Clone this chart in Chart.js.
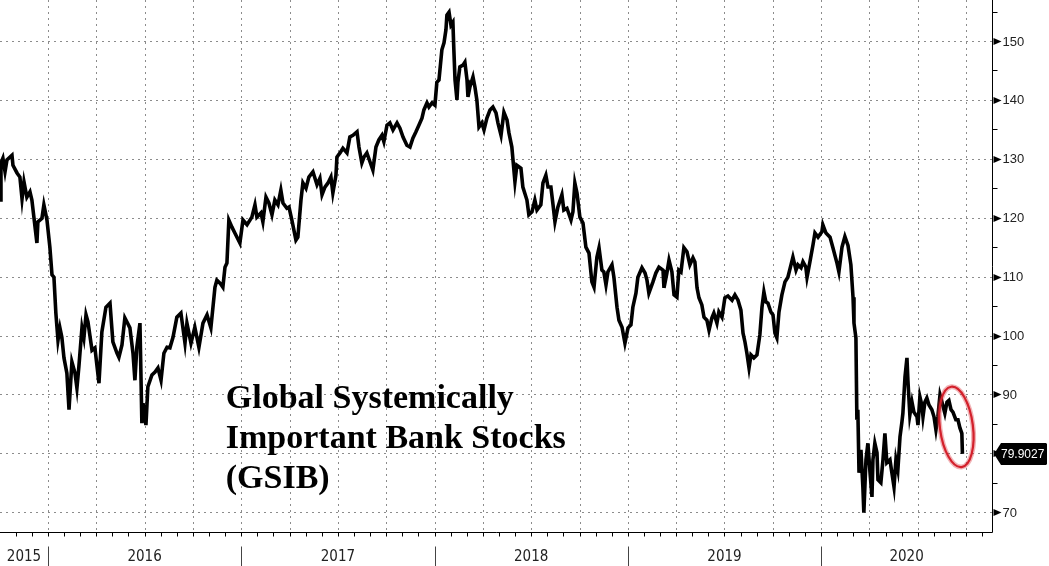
<!DOCTYPE html>
<html>
<head>
<meta charset="utf-8">
<script src="https://cdn.jsdelivr.net/npm/chart.js@4.4.1/dist/chart.umd.min.js"></script>
<style>
  html, body { margin: 0; padding: 0; background: #ffffff; }
  #wrap { width: 1049px; height: 566px; position: relative; }
</style>
</head>
<body>
<div id="wrap"><canvas id="c" width="1049" height="566"></canvas></div>
<script>
// ---- DATA (x = decimal year, y = index level) ----
const dates = [
  2015.752,2015.757,2015.767,2015.778,2015.788,2015.814,2015.819,2015.840,2015.855,2015.866,
  2015.876,2015.891,2015.907,2015.917,2015.928,2015.943,2015.948,2015.969,2015.979,2015.995,
  2016.010,2016.021,2016.031,2016.041,2016.052,2016.062,2016.072,2016.083,2016.098,2016.109,
  2016.124,2016.140,2016.150,2016.160,2016.176,2016.186,2016.197,2016.207,2016.228,2016.243,
  2016.264,2016.279,2016.300,2016.321,2016.336,2016.357,2016.367,2016.383,2016.398,2016.409,
  2016.424,2016.440,2016.450,2016.460,2016.476,2016.486,2016.492,2016.507,2016.517,2016.538,
  2016.554,2016.569,2016.585,2016.600,2016.616,2016.631,2016.647,2016.667,2016.688,2016.709,
  2016.719,2016.740,2016.760,2016.781,2016.802,2016.823,2016.843,2016.864,2016.874,2016.890,
  2016.905,2016.916,2016.926,2016.936,2016.952,2016.967,2016.993,2017.009,2017.030,2017.055,
  2017.071,2017.081,2017.102,2017.112,2017.128,2017.143,2017.159,2017.174,2017.190,2017.205,
  2017.216,2017.236,2017.247,2017.262,2017.283,2017.293,2017.309,2017.319,2017.335,2017.350,
  2017.371,2017.392,2017.407,2017.418,2017.433,2017.449,2017.464,2017.474,2017.490,2017.495,
  2017.511,2017.526,2017.547,2017.562,2017.578,2017.599,2017.609,2017.624,2017.635,2017.650,
  2017.666,2017.681,2017.697,2017.712,2017.728,2017.738,2017.754,2017.769,2017.785,2017.806,
  2017.821,2017.837,2017.857,2017.873,2017.888,2017.904,2017.919,2017.935,2017.945,2017.961,
  2017.971,2017.987,2018.002,2018.012,2018.023,2018.038,2018.049,2018.059,2018.064,2018.075,
  2018.085,2018.095,2018.100,2018.106,2018.116,2018.121,2018.131,2018.147,2018.157,2018.168,
  2018.173,2018.183,2018.199,2018.209,2018.219,2018.230,2018.245,2018.256,2018.271,2018.287,
  2018.302,2018.318,2018.328,2018.344,2018.359,2018.375,2018.385,2018.400,2018.406,2018.416,
  2018.426,2018.447,2018.457,2018.478,2018.488,2018.504,2018.519,2018.530,2018.550,2018.561,
  2018.576,2018.587,2018.602,2018.613,2018.623,2018.638,2018.659,2018.669,2018.685,2018.706,
  2018.716,2018.726,2018.737,2018.752,2018.768,2018.783,2018.799,2018.814,2018.825,2018.840,
  2018.851,2018.866,2018.876,2018.887,2018.897,2018.918,2018.928,2018.944,2018.954,2018.970,
  2018.985,2019.001,2019.016,2019.026,2019.042,2019.052,2019.073,2019.089,2019.099,2019.109,
  2019.130,2019.145,2019.161,2019.182,2019.187,2019.202,2019.213,2019.228,2019.239,2019.254,
  2019.264,2019.275,2019.290,2019.306,2019.321,2019.337,2019.347,2019.358,2019.368,2019.383,
  2019.394,2019.409,2019.420,2019.435,2019.445,2019.461,2019.471,2019.487,2019.502,2019.518,
  2019.539,2019.554,2019.570,2019.585,2019.596,2019.606,2019.616,2019.627,2019.637,2019.652,
  2019.668,2019.683,2019.694,2019.704,2019.714,2019.725,2019.740,2019.751,2019.761,2019.771,
  2019.782,2019.797,2019.813,2019.828,2019.844,2019.854,2019.870,2019.880,2019.896,2019.906,
  2019.921,2019.927,2019.942,2019.958,2019.968,2019.984,2020.004,2020.009,2020.025,2020.046,
  2020.061,2020.082,2020.092,2020.108,2020.123,2020.139,2020.154,2020.165,2020.170,2020.180,
  2020.185,2020.190,2020.196,2020.206,2020.216,2020.221,2020.232,2020.242,2020.253,2020.263,
  2020.268,2020.278,2020.289,2020.294,2020.309,2020.320,2020.330,2020.340,2020.356,2020.366,
  2020.377,2020.387,2020.397,2020.408,2020.418,2020.423,2020.434,2020.444,2020.449,2020.459,
  2020.470,2020.480,2020.496,2020.501,2020.511,2020.521,2020.527,2020.537,2020.547,2020.558,
  2020.573,2020.584,2020.594,2020.604,2020.615,2020.625,2020.640,2020.651,2020.661,2020.672,
  2020.682,2020.697,2020.708,2020.718,2020.728,2020.731
];
const gsib = [
  123.0,129.3,130.1,127.8,129.8,130.6,128.9,127.6,126.9,123.2,
  126.1,123.5,124.4,123.0,119.9,115.7,119.3,119.9,122.2,119.6,
  115.0,110.3,109.9,103.8,99.2,101.3,99.7,96.2,93.6,87.4,
  95.5,93.6,91.1,94.7,101.3,99.6,103.5,102.3,97.5,97.9,
  91.9,100.6,104.8,105.5,98.9,97.0,96.3,98.4,103.0,102.3,
  101.3,97.0,92.4,98.0,102.1,85.1,88.5,84.8,91.3,93.3,
  93.8,94.5,92.4,97.0,98.0,97.9,99.7,103.1,103.8,98.7,
  102.1,98.7,101.4,98.0,102.1,103.5,101.3,108.2,109.4,108.9,
  108.2,111.6,112.3,119.6,118.4,117.4,115.7,119.6,118.8,120.1,
  122.2,120.1,120.8,119.3,123.5,122.5,120.5,123.0,122.2,124.7,
  122.5,121.6,121.8,119.6,116.2,116.7,123.0,125.9,125.0,126.9,
  127.8,125.6,126.7,123.9,125.2,125.9,126.9,124.2,127.2,130.3,
  131.0,131.8,131.0,133.7,134.0,134.6,132.0,129.3,130.3,131.0,
  129.5,128.1,132.0,133.2,134.0,132.9,135.7,136.1,134.9,136.1,
  135.2,133.7,132.3,132.0,133.5,134.6,135.7,136.9,138.3,139.5,
  138.8,139.5,139.1,143.0,143.4,148.5,149.7,151.9,154.4,154.9,
  152.7,153.2,148.5,143.4,140.0,143.0,145.6,145.9,146.4,143.4,
  140.5,142.2,143.9,142.2,140.0,135.4,136.1,134.9,136.9,138.3,
  138.8,137.8,136.1,134.0,137.9,136.6,134.4,132.0,129.8,126.1,
  128.9,128.4,125.2,123.0,120.5,121.0,123.0,121.3,122.2,125.9,
  127.2,125.2,125.2,122.2,119.3,121.8,123.9,121.3,121.6,119.6,
  121.0,125.9,124.2,120.1,119.1,115.0,114.0,109.1,108.2,113.3,
  114.9,111.1,110.8,108.6,110.8,112.0,109.9,104.8,102.6,101.4,
  98.7,101.3,101.8,104.8,107.2,109.9,111.5,110.6,109.4,107.2,
  109.1,110.6,111.6,111.1,108.1,110.6,112.8,110.8,106.9,106.5,
  111.1,110.8,114.9,114.2,112.0,113.2,112.5,108.1,106.4,105.2,
  103.1,102.6,100.9,103.0,103.8,102.1,104.0,103.1,106.4,106.7,
  106.0,106.9,106.0,104.3,100.4,98.9,97.0,94.5,96.7,96.2,
  96.7,100.1,104.8,107.4,105.7,105.5,104.0,103.5,100.4,99.6,
  104.0,106.9,109.1,109.9,112.0,113.3,111.1,112.0,111.5,112.5,
  111.6,109.9,112.5,115.4,117.4,116.7,117.6,118.8,117.4,116.7,
  114.9,112.3,110.8,115.0,116.8,115.3,112.0,106.5,102.1,99.6,
  85.7,87.4,76.7,80.6,74.3,69.9,78.9,81.7,76.7,72.6,
  78.9,81.7,80.1,75.5,75.0,78.9,83.4,78.4,78.9,76.7,
  74.3,78.9,77.2,82.8,85.3,86.8,93.0,96.2,92.4,86.5,
  88.7,87.0,86.2,84.8,89.6,88.2,86.2,88.7,89.4,88.2,
  87.4,86.2,84.0,86.2,89.9,88.7,86.8,88.7,89.0,87.4,
  87.0,85.7,85.7,84.3,83.4,79.9027
];
const yTickValues = [70, 80, 90, 100, 110, 120, 130, 140, 150];
const yTickLabels = ['70', '80', '90', '100', '110', '120', '130', '140', '150'];
const xYearLabels = ['2015', '2016', '2017', '2018', '2019', '2020'];
const titleLines = ['Global Systemically', 'Important Bank Stocks', '(GSIB)'];

// axis ranges
const X_MIN = 2015.752, X_MAX = 2020.884;
const Y_MIN = 66.64, Y_MAX = 156.96;

// centers of the visible part of each year (for the year labels)
function yearCenters() {
  return xYearLabels.map(s => {
    const y = parseInt(s, 10);
    const a = Math.max(y, X_MIN), b = Math.min(y + 1, X_MAX);
    return (a + b) / 2;
  });
}

const decor = {
  id: 'decor',
  beforeDatasetsDraw(chart) {
    const {ctx, chartArea: ca, scales: {x, y}} = chart;
    ctx.save();
    ctx.strokeStyle = '#8c8c8c';
    ctx.lineWidth = 1;
    ctx.setLineDash([2, 4]);
    // horizontal grid
    yTickValues.forEach(v => {
      const py = Math.round(y.getPixelForValue(v)) + 0.5;
      ctx.beginPath(); ctx.moveTo(ca.left, py); ctx.lineTo(ca.right, py); ctx.stroke();
    });
    // vertical quarterly grid
    for (let q = Math.ceil(X_MIN * 4); q / 4 <= X_MAX; q++) {
      const px = Math.round(x.getPixelForValue(q / 4)) + 0.5;
      if (px <= ca.left || px >= ca.right) continue;
      ctx.beginPath(); ctx.moveTo(px, ca.top); ctx.lineTo(px, ca.bottom); ctx.stroke();
    }
    ctx.restore();
  },
  afterDatasetsDraw(chart) {
    const {ctx, chartArea: ca, scales: {x, y}} = chart;
    ctx.save();
    ctx.setLineDash([]);
    ctx.strokeStyle = '#000';
    ctx.lineWidth = 1;
    // axis lines
    const bx = Math.round(ca.right) + 0.5, by = Math.round(ca.bottom) + 0.5;
    ctx.beginPath(); ctx.moveTo(ca.left, by); ctx.lineTo(bx, by); ctx.stroke();
    ctx.beginPath(); ctx.moveTo(bx, ca.top); ctx.lineTo(bx, by); ctx.stroke();
    // monthly ticks on x axis
    for (let m = Math.ceil(X_MIN * 12); m / 12 <= X_MAX; m++) {
      const px = Math.round(x.getPixelForValue(m / 12)) + 0.5;
      ctx.beginPath(); ctx.moveTo(px, by); ctx.lineTo(px, by + 4); ctx.stroke();
    }
    // year separators
    ctx.strokeStyle = '#444';
    for (let yr = Math.ceil(X_MIN); yr <= X_MAX; yr++) {
      const px = Math.round(x.getPixelForValue(yr)) + 0.5;
      ctx.beginPath(); ctx.moveTo(px, by + 14); ctx.lineTo(px, chart.height); ctx.stroke();
    }
    // x year labels
    ctx.fillStyle = '#222';
    ctx.font = '15px "Liberation Sans Narrow", "DejaVu Sans Condensed", sans-serif';
    ctx.textAlign = 'center';
    ctx.textBaseline = 'middle';
    yearCenters().forEach((c, i) => ctx.fillText(xYearLabels[i], x.getPixelForValue(c), by + 25));
    // y minor ticks, major arrows and labels
    ctx.strokeStyle = '#000';
    for (let v = Math.ceil(Y_MIN / 5) * 5; v <= Y_MAX; v += 5) {
      const py = Math.round(y.getPixelForValue(v)) + 0.5;
      if (v % 10 === 0) {
        ctx.fillStyle = '#000';
        ctx.beginPath();
        ctx.moveTo(bx + 1, py - 3.5);
        ctx.lineTo(bx + 9, py);
        ctx.lineTo(bx + 1, py + 3.5);
        ctx.closePath(); ctx.fill();
      } else {
        ctx.beginPath(); ctx.moveTo(bx, py); ctx.lineTo(bx + 5, py); ctx.stroke();
      }
    }
    ctx.fillStyle = '#222';
    ctx.font = '13px "Liberation Sans", Arial, sans-serif';
    ctx.textAlign = 'left';
    ctx.textBaseline = 'middle';
    yTickValues.forEach((v, i) => {
      ctx.fillText(yTickLabels[i], bx + 10, y.getPixelForValue(v) + 1);
    });

    // title text
    ctx.fillStyle = '#000';
    ctx.font = 'bold 34px "Liberation Serif", "Times New Roman", serif';
    ctx.textBaseline = 'alphabetic';
    ctx.textAlign = 'left';
    const tx = x.getPixelForValue(2016.92);
    titleLines.forEach((t, i) => ctx.fillText(t, tx, 408 + i * 40));

    // last value marker
    const lastX = dates[dates.length - 1], lastV = gsib[gsib.length - 1];
    const lx = x.getPixelForValue(lastX), ly = y.getPixelForValue(lastV);
    // red ellipse around the final drop
    ctx.save();
    ctx.strokeStyle = 'rgba(215,40,50,0.35)';
    ctx.lineWidth = 5;
    ctx.beginPath(); ctx.ellipse(lx - 6, ly - 27, 16.5, 40.5, -0.13, 0, Math.PI * 2); ctx.stroke();
    ctx.strokeStyle = '#d3202b';
    ctx.lineWidth = 2.2;
    ctx.beginPath(); ctx.ellipse(lx - 6, ly - 27, 16.5, 40.5, -0.13, 0, Math.PI * 2); ctx.stroke();
    ctx.restore();
    // value box
    const r = ca.right;
    ctx.fillStyle = '#000';
    ctx.beginPath();
    ctx.moveTo(r + 2, ly);
    ctx.lineTo(r + 9, ly - 11);
    ctx.lineTo(r + 54, ly - 11);
    ctx.lineTo(r + 55, ly - 10);
    ctx.lineTo(r + 55, ly + 10);
    ctx.lineTo(r + 54, ly + 11);
    ctx.lineTo(r + 9, ly + 11);
    ctx.closePath(); ctx.fill();
    ctx.fillStyle = '#fff';
    ctx.font = '12px "Liberation Sans", Arial, sans-serif';
    ctx.textAlign = 'left';
    ctx.textBaseline = 'middle';
    ctx.fillText(lastV.toFixed(4), r + 9, ly + 1);
    ctx.restore();
  }
};

new Chart(document.getElementById('c'), {
  type: 'line',
  data: {
    datasets: [{
      data: dates.map((d, i) => ({x: d, y: gsib[i]})),
      borderColor: '#000',
      borderWidth: 3.6,
      pointRadius: 0,
      tension: 0,
      fill: false
    }]
  },
  options: {
    responsive: false,
    animation: false,
    devicePixelRatio: 1,
    layout: {padding: 0},
    plugins: {legend: {display: false}, tooltip: {enabled: false}, title: {display: false}},
    scales: {
      x: {
        type: 'linear', min: X_MIN, max: X_MAX,
        grid: {display: false, drawTicks: false},
        border: {display: false},
        ticks: {display: false},
        afterFit: s => { s.height = 34; }
      },
      y: {
        type: 'linear', position: 'right', min: Y_MIN, max: Y_MAX,
        grid: {display: false, drawTicks: false},
        border: {display: false},
        ticks: {display: false},
        afterFit: s => { s.width = 57; }
      }
    }
  },
  plugins: [decor]
});
</script>
</body>
</html>
